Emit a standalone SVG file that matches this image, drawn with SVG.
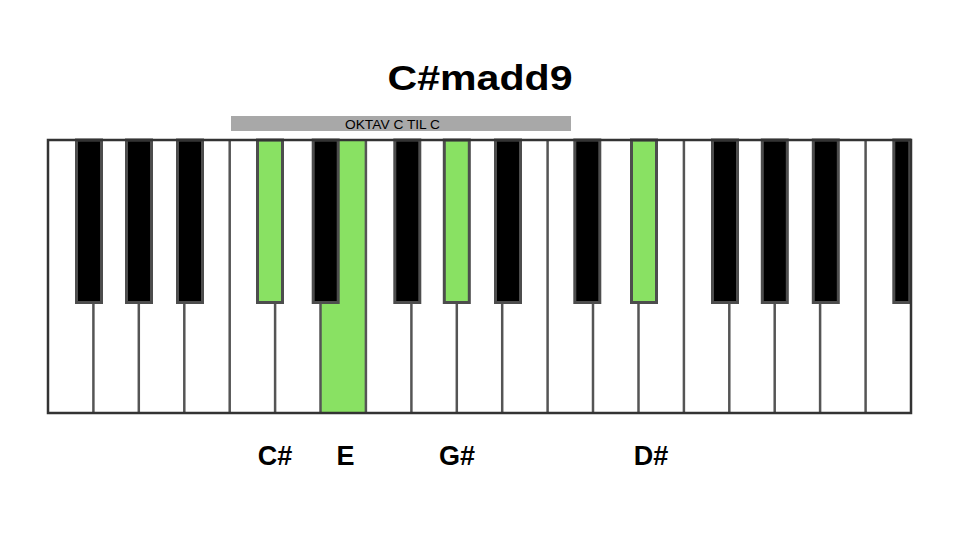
<svg xmlns="http://www.w3.org/2000/svg" width="960" height="540" viewBox="0 0 960 540">
<style>
.bk{fill:#000;stroke:#4d4d4d;stroke-width:3}
.gk{fill:#89e163;stroke:#4d4d4d;stroke-width:3}
.div{stroke:#555;stroke-width:2.5}
.lbl{font-family:"Liberation Sans",Arial,sans-serif;font-weight:bold;font-size:27px;fill:#000;text-anchor:middle}
</style>
<rect width="960" height="540" fill="#fff"/>
<text x="480" y="90" font-family="Liberation Sans, Arial, sans-serif" font-weight="bold" font-size="35" text-anchor="middle" textLength="185" lengthAdjust="spacingAndGlyphs">C#madd9</text>
<g id="octave-bar">
<rect x="231" y="116" width="340" height="15" fill="#a8a8a8"/>
<text x="392.5" y="129.3" font-family="Liberation Sans, Arial, sans-serif" font-size="12.5" text-anchor="middle" textLength="95" lengthAdjust="spacingAndGlyphs">OKTAV C TIL C</text>
</g>
<g id="keyboard">
<rect x="48" y="140" width="863" height="273" fill="#fff"/>
<g id="key-E-green"><rect x="320.5" y="140" width="45.4" height="273" fill="#89e163"/></g>
<g id="dividers">
<line class="div" x1="93.4" y1="304" x2="93.4" y2="413"/>
<line class="div" x1="138.8" y1="304" x2="138.8" y2="413"/>
<line class="div" x1="184.3" y1="304" x2="184.3" y2="413"/>
<line class="div" x1="229.7" y1="140" x2="229.7" y2="413"/>
<line class="div" x1="275.1" y1="304" x2="275.1" y2="413"/>
<line class="div" x1="320.5" y1="304" x2="320.5" y2="413"/>
<line class="div" x1="365.9" y1="140" x2="365.9" y2="413"/>
<line class="div" x1="411.4" y1="304" x2="411.4" y2="413"/>
<line class="div" x1="456.8" y1="304" x2="456.8" y2="413"/>
<line class="div" x1="502.2" y1="304" x2="502.2" y2="413"/>
<line class="div" x1="547.6" y1="140" x2="547.6" y2="413"/>
<line class="div" x1="593" y1="304" x2="593" y2="413"/>
<line class="div" x1="638.5" y1="304" x2="638.5" y2="413"/>
<line class="div" x1="683.9" y1="140" x2="683.9" y2="413"/>
<line class="div" x1="729.3" y1="304" x2="729.3" y2="413"/>
<line class="div" x1="774.7" y1="304" x2="774.7" y2="413"/>
<line class="div" x1="820.1" y1="304" x2="820.1" y2="413"/>
<line class="div" x1="865.6" y1="140" x2="865.6" y2="413"/>
</g>
<g id="black-keys">
<g id="bk-Fs1"><rect class="bk" x="76.5" y="140" width="25" height="162.5"/></g>
<g id="bk-Gs1"><rect class="bk" x="126.5" y="140" width="25" height="162.5"/></g>
<g id="bk-As1"><rect class="bk" x="177.5" y="140" width="25" height="162.5"/></g>
<g id="bk-Cs2"><rect class="gk" x="257.5" y="140" width="25" height="162.5"/></g>
<g id="bk-Ds2"><rect class="bk" x="313.2" y="140" width="25" height="162.5"/></g>
<g id="bk-Fs2"><rect class="bk" x="394.8" y="140" width="25" height="162.5"/></g>
<g id="bk-Gs2"><rect class="gk" x="444.3" y="140" width="25" height="162.5"/></g>
<g id="bk-As2"><rect class="bk" x="495.5" y="140" width="25" height="162.5"/></g>
<g id="bk-Cs3"><rect class="bk" x="574.8" y="140" width="25" height="162.5"/></g>
<g id="bk-Ds3"><rect class="gk" x="631.5" y="140" width="25" height="162.5"/></g>
<g id="bk-Fs3"><rect class="bk" x="712.5" y="140" width="25" height="162.5"/></g>
<g id="bk-Gs3"><rect class="bk" x="762.3" y="140" width="25" height="162.5"/></g>
<g id="bk-As3"><rect class="bk" x="813.3" y="140" width="25" height="162.5"/></g>
<g id="bk-Cs4"><rect class="bk" x="893.8" y="140" width="16" height="162.5"/></g>
</g>
<rect x="48" y="140" width="863" height="273" fill="none" stroke="#333" stroke-width="2.5"/>
</g>
<g id="labels">
<text class="lbl" x="275" y="465">C#</text>
<text class="lbl" x="345.5" y="465">E</text>
<text class="lbl" x="457" y="465">G#</text>
<text class="lbl" x="651" y="465">D#</text>
</g>
</svg>
